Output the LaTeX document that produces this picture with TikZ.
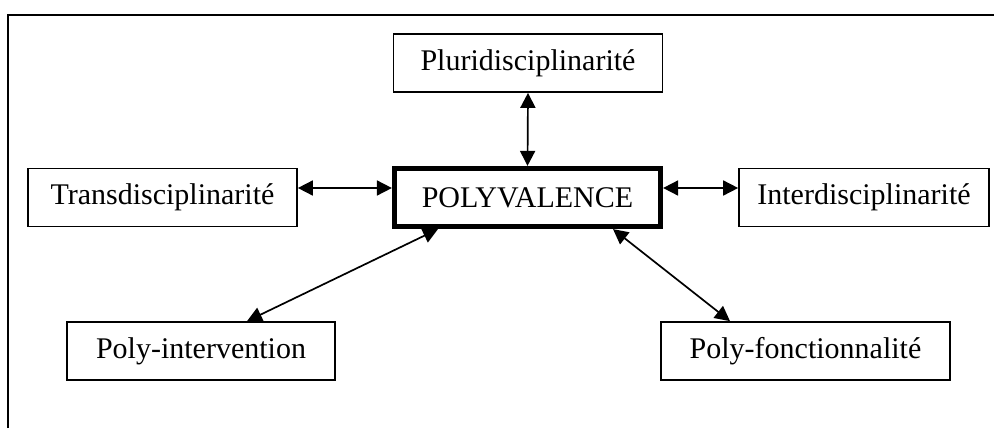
\documentclass[tikz,border=0pt]{standalone}
\usepackage{fontspec}
\setmainfont{Liberation Serif}
\usetikzlibrary{arrows.meta,positioning}

\tikzset{
	box/.style={draw, line width=0.85pt, minimum height=29pt, inner sep=0pt,
		font=\fontsize{15}{18}\selectfont},
	mainbox/.style={box, line width=2.6pt},
	link/.style={<->, line width=0.85pt}
}

\begin{document}
\begin{tikzpicture}[x=0.5pt, y=-0.5pt, >={Triangle[length=7.5pt,width=7.5pt]}]
				\useasboundingbox (0,0) rectangle (994,428);
				\draw[line width=1pt] (8,428) |- (994,15);

				\node[box, minimum width=134.5pt] (Pluri) at (528,63) {Pluridisciplinarité};
				\node[box, minimum width=134.5pt] (Trans) at (162.5,197.5) {Transdisciplinarité};
				\node[mainbox, minimum width=133pt] (Poly) at (527.5,197.5) {POLYVALENCE};
				\node[box, minimum width=125pt] (Inter) at (864,197.5) {Interdisciplinarité};
				\node[box, minimum width=134pt] (Interv) at (201,351) {Poly-intervention};
				\node[box, minimum width=144.5pt] (Fonct) at (805.5,351) {Poly-fonctionnalité};

				\draw [link] (Pluri.south) -- (Poly.north);
				\draw [link] ([yshift=4.75pt]Trans.east) -- ([yshift=4.75pt]Poly.west);
				\draw [link] ([yshift=4.75pt]Inter.west) -- ([yshift=4.75pt]Poly.east);
				\draw [link] ([xshift=-44.75pt]Poly.south) -- ([xshift=23pt]Interv.north);
				\draw [link] ([xshift=42.75pt]Poly.south) -- ([xshift=-37.75pt]Fonct.north);
			\end{tikzpicture}
\end{document}
